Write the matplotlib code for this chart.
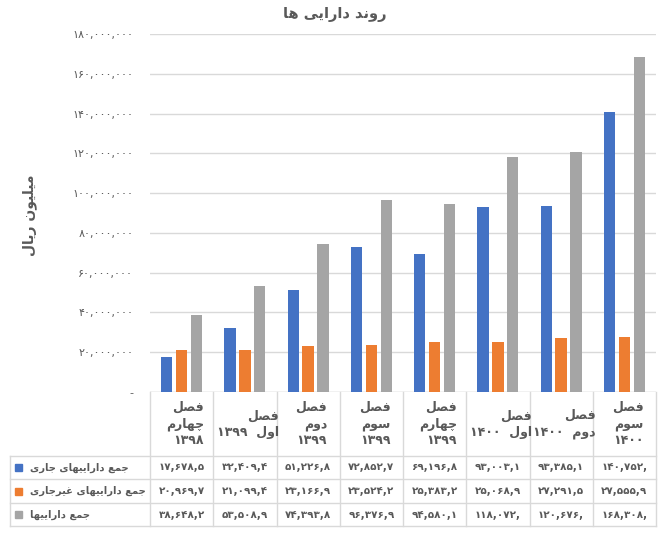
import numpy as np
import matplotlib.pyplot as plt
from matplotlib.transforms import blended_transform_factory
from matplotlib.patches import Rectangle

# --- data (million rials) ---
categories = ['فصل\nچهارم\n1398', 'فصل\nاول 1399', 'فصل\nدوم\n1399', 'فصل\nسوم\n1399',
              'فصل\nچهارم\n1399', 'فصل\nاول 1400', 'فصل\nدوم 1400', 'فصل\nسوم\n1400']
series_names = ['جمع داراییهای جاری', 'جمع داراییهای غیرجاری', 'جمع داراییها']
current_assets = [17678500, 32409400, 51226800, 72852700, 69196800, 93003100, 93385100, 140752000]
noncurrent_assets = [20969700, 21099400, 23166900, 23524200, 25383200, 25068900, 27291500, 27555900]
total_assets = [38648200, 53508900, 74393800, 96376900, 94580100, 118072000, 120676000, 168308000]
yticks = [0, 20e6, 40e6, 60e6, 80e6, 100e6, 120e6, 140e6, 160e6, 180e6]
title = 'روند دارایی ها'
ylabel = 'میلیون ریال'

colors = ['#4472C4', '#ED7D31', '#A5A5A5']
txt = '#595959'
grid = '#D9D9D9'

# minimal arabic/persian shaping (iso, fin, ini, med)
FORMS = {
    'ا': ('\uFE8D', '\uFE8E', None, None),
    'د': ('\uFEA9', '\uFEAA', None, None),
    'ر': ('\uFEAD', '\uFEAE', None, None),
    'و': ('\uFEED', '\uFEEE', None, None),
    'ن': ('\uFEE5', '\uFEE6', '\uFEE7', '\uFEE8'),
    'ه': ('\uFEE9', '\uFEEA', '\uFEEB', '\uFEEC'),
    'م': ('\uFEE1', '\uFEE2', '\uFEE3', '\uFEE4'),
    'ل': ('\uFEDD', '\uFEDE', '\uFEDF', '\uFEE0'),
    'ع': ('\uFEC9', '\uFECA', '\uFECB', '\uFECC'),
    'غ': ('\uFECD', '\uFECE', '\uFECF', '\uFED0'),
    'ج': ('\uFE9D', '\uFE9E', '\uFE9F', '\uFEA0'),
    'ف': ('\uFED1', '\uFED2', '\uFED3', '\uFED4'),
    'ص': ('\uFEB9', '\uFEBA', '\uFEBB', '\uFEBC'),
    'س': ('\uFEB1', '\uFEB2', '\uFEB3', '\uFEB4'),
    'ی': ('\uFBFC', '\uFBFD', '\uFBFE', '\uFBFF'),
    'چ': ('\uFB7A', '\uFB7B', '\uFB7C', '\uFB7D'),
}
FA_DIGITS = str.maketrans('0123456789', '۰۱۲۳۴۵۶۷۸۹')


def shape_word(w):
    out = []
    for i, c in enumerate(w):
        if c not in FORMS:
            out.append(c)
            continue
        f = FORMS[c]
        prev = w[i - 1] if i > 0 else None
        nxt = w[i + 1] if i + 1 < len(w) else None
        jp = prev in FORMS and FORMS[prev][2] is not None
        jn = nxt in FORMS and f[2] is not None
        if jp and jn:
            out.append(f[3])
        elif jp:
            out.append(f[1])
        elif jn:
            out.append(f[2])
        else:
            out.append(f[0])
    return ''.join(out)[::-1]


def fa(s):
    lines = []
    for line in s.split('\n'):
        words = line.split(' ')
        vis = []
        for w in words[::-1]:
            if any(ch in FORMS for ch in w):
                vis.append(shape_word(w))
            else:
                vis.append(w.translate(FA_DIGITS))
        lines.append('  '.join(vis) if len(words) == 2 and any(ch.isdigit() for ch in line) else ' '.join(vis))
    return '\n'.join(lines)


plt.rcParams['font.family'] = ['DejaVu Sans']
W, H = 670, 545
fig = plt.figure(figsize=(W / 100, H / 100), dpi=100)
ax = fig.add_axes([150 / W, 1 - 392 / H, 506 / W, 358 / H])

x = np.arange(len(categories))
width = 0.18
offset = 0.235
for k, vals in enumerate([current_assets, noncurrent_assets, total_assets]):
    ax.bar(x + (k - 1) * offset, vals, width, color=colors[k], zorder=3)

ax.set_xlim(-0.5, len(categories) - 0.5)
ax.set_ylim(0, 180e6)
ax.set_yticks(yticks)
ax.set_yticklabels(['-' if v == 0 else f'{int(v):,}'.translate(FA_DIGITS) for v in yticks],
                   color=txt, fontsize=8)
ax.tick_params(axis='y', length=0, pad=12)
ax.set_xticks([])
ax.grid(axis='y', color=grid, lw=1, zorder=0)
for s in ax.spines.values():
    s.set_visible(False)
ax.axhline(0, color=grid, lw=1, zorder=1)

fig.text(0.5, 1 - 14 / H, fa(title), ha='center', va='center', fontsize=10.5,
         fontweight='bold', color=txt)
fig.text(30 / W, 1 - 215 / H, fa(ylabel), ha='center', va='center', rotation=90,
         fontsize=10, fontweight='bold', color=txt)

# --- data table below the axis ---
tr = blended_transform_factory(ax.transData, fig.transFigure)
fy = lambda py: 1 - py / H
row_top, row_lines = 392, [456, 479, 503, 526]
for i in range(len(categories) + 1):
    ax.plot([i - 0.5, i - 0.5], [fy(row_top), fy(row_lines[-1])], transform=tr,
            color=grid, lw=1, clip_on=False)
for py in row_lines:
    fig.add_artist(plt.Line2D([10 / W, 656 / W], [fy(py), fy(py)], color=grid, lw=1))
fig.add_artist(plt.Line2D([10 / W, 10 / W], [fy(456), fy(526)], color=grid, lw=1))

for i, c in enumerate(categories):
    ax.text(i + 0.05, fy(424), fa(c), transform=tr, ha='center', va='center',
            multialignment='right', fontsize=9, fontweight='bold', color=txt, linespacing=1.35)

for r, (name, vals) in enumerate(zip(series_names, [current_assets, noncurrent_assets, total_assets])):
    yc = (row_lines[r] + row_lines[r + 1]) / 2
    fig.add_artist(Rectangle((15 / W, fy(yc + 3.5)), 7 / W, 7 / H, color=colors[r]))
    fig.text(30 / W, fy(yc), fa(name), ha='left', va='center', fontsize=7.2,
             fontweight='bold', color=txt)
    for i, v in enumerate(vals):
        ax.text(i, fy(yc), f'{v:,}'[:8].translate(FA_DIGITS), transform=tr, ha='center',
                va='center', fontsize=7.5, fontweight='bold', color=txt)

fig.savefig('out.png', dpi=100)
